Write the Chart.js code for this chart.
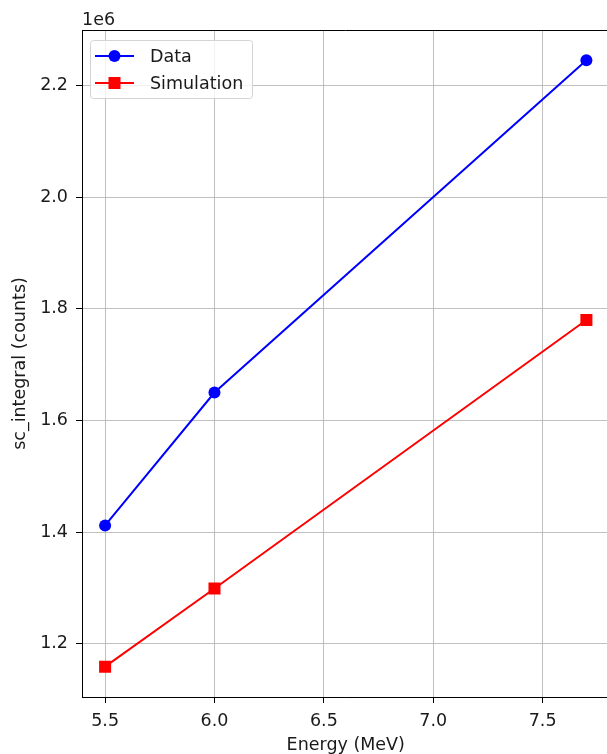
<!DOCTYPE html>
<html>
<head>
<meta charset="utf-8">
<script src="https://cdn.jsdelivr.net/npm/chart.js@4/dist/chart.umd.min.js"></script>
<style>
  html, body { margin: 0; padding: 0; background: #fff; overflow: hidden; }
  #wrap { width: 620px; height: 754px; }
</style>
</head>
<body>
<div id="wrap"><canvas id="c" width="620" height="754"></canvas></div>
<script>
// Beam energies (MeV) and integrated counts
const energies = [5.5, 6.0, 7.7];
const dataCounts = [1.412e6, 1.650e6, 2.245e6];
const simCounts = [1.159e6, 1.299e6, 1.780e6];

// Axis ticks
const xTicks = [5.5, 6.0, 6.5, 7.0, 7.5];
const yTicks = [1.2e6, 1.4e6, 1.6e6, 1.8e6, 2.0e6, 2.2e6];
const yScaleExp = 1e6;

const FONT = "'DejaVu Sans', sans-serif";
const FS = 17.5;
const TXT = '#1a1a1a';
const toXY = (xs, ys) => xs.map((x, i) => ({ x: x, y: ys[i] }));

// Axis range with small margins around the data
const xMin = Math.min(...energies), xMax = Math.max(...energies);
const allY = dataCounts.concat(simCounts);
const yMin = Math.min(...allY), yMax = Math.max(...allY);
const xPad = (xMax - xMin) * 0.048, yPad = (yMax - yMin) * 0.05;

const frame = {
  id: 'frame',
  afterDraw(chart) {
    const { ctx, chartArea: a } = chart;
    ctx.save();
    // top spine
    ctx.strokeStyle = '#000';
    ctx.lineWidth = 1;
    ctx.beginPath();
    ctx.moveTo(a.left, a.top + 0.5);
    ctx.lineTo(a.right, a.top + 0.5);
    ctx.stroke();
    // exponent label
    ctx.fillStyle = TXT;
    ctx.font = FS + 'px ' + FONT;
    ctx.textAlign = 'left';
    ctx.textBaseline = 'alphabetic';
    ctx.fillText('1e6', a.left, a.top - 5);

    // legend box
    const bx = a.left + 8, by = a.top + 10, bw = 162, bh = 58;
    ctx.beginPath();
    ctx.roundRect(bx + 0.5, by + 0.5, bw, bh, 3);
    ctx.fillStyle = 'rgba(255,255,255,0.8)';
    ctx.fill();
    ctx.strokeStyle = '#d4d4d4';
    ctx.lineWidth = 1;
    ctx.stroke();

    chart.data.datasets.forEach((ds, i) => {
      const cy = by + 16 + i * 27;
      const x0 = bx + 5, x1 = bx + 44, mx = (x0 + x1) / 2;
      ctx.strokeStyle = ds.borderColor;
      ctx.lineWidth = 2;
      ctx.beginPath();
      ctx.moveTo(x0, cy);
      ctx.lineTo(x1, cy);
      ctx.stroke();
      ctx.fillStyle = ds.borderColor;
      if (ds.pointStyle === 'circle') {
        ctx.beginPath();
        ctx.arc(mx, cy, 6, 0, Math.PI * 2);
        ctx.fill();
      } else {
        ctx.fillRect(mx - 6, cy - 6, 12, 12);
      }
      ctx.fillStyle = TXT;
      ctx.font = FS + 'px ' + FONT;
      ctx.textBaseline = 'middle';
      ctx.fillText(ds.label, bx + 60, cy + 1);
    });
    ctx.restore();
  }
};

new Chart(document.getElementById('c'), {
  type: 'line',
  data: {
    datasets: [
      {
        label: 'Data',
        data: toXY(energies, dataCounts),
        borderColor: '#0000ff',
        backgroundColor: '#0000ff',
        borderWidth: 2,
        pointStyle: 'circle',
        pointRadius: 6,
        pointHoverRadius: 6,
        pointBorderWidth: 0,
        tension: 0
      },
      {
        label: 'Simulation',
        data: toXY(energies, simCounts),
        borderColor: '#ff0000',
        backgroundColor: '#ff0000',
        borderWidth: 2,
        pointStyle: 'rect',
        pointRadius: 8.5,
        pointHoverRadius: 8.5,
        pointBorderWidth: 0,
        tension: 0
      }
    ]
  },
  options: {
    responsive: false,
    animation: false,
    events: [],
    layout: { padding: { left: 0, top: 30, right: 10.5, bottom: 0 } },
    plugins: { legend: { display: false }, tooltip: { enabled: false } },
    scales: {
      x: {
        type: 'linear',
        min: xMin - xPad,
        max: xMax + xPad,
        afterBuildTicks(s) { s.ticks = xTicks.map(v => ({ value: v })); },
        afterFit(s) { s.height = 57; },
        ticks: {
          color: TXT,
          font: { family: FONT, size: FS },
          padding: 8,
          callback: v => v.toFixed(1)
        },
        grid: { color: '#b0b0b0', lineWidth: 0.8, tickColor: '#000', tickLength: 6, tickWidth: 1 },
        border: { display: true, color: '#000', width: 1 },
        title: {
          display: true,
          text: 'Energy (MeV)',
          color: TXT,
          font: { family: FONT, size: FS, lineHeight: 1.0 },
          padding: { top: 0, bottom: 0 }
        }
      },
      y: {
        type: 'linear',
        min: yMin - yPad,
        max: yMax + yPad,
        afterBuildTicks(s) { s.ticks = yTicks.map(v => ({ value: v })); },
        afterFit(s) { s.width = 82; },
        ticks: {
          color: TXT,
          font: { family: FONT, size: FS },
          padding: 8,
          callback: v => (v / yScaleExp).toFixed(1)
        },
        grid: { color: '#b0b0b0', lineWidth: 0.8, tickColor: '#000', tickLength: 6, tickWidth: 1 },
        border: { display: true, color: '#000', width: 1 },
        title: {
          display: true,
          text: 'sc_integral (counts)',
          color: TXT,
          font: { family: FONT, size: FS },
          padding: { top: 10, bottom: 0 }
        }
      }
    }
  },
  plugins: [frame]
});
</script>
</body>
</html>
